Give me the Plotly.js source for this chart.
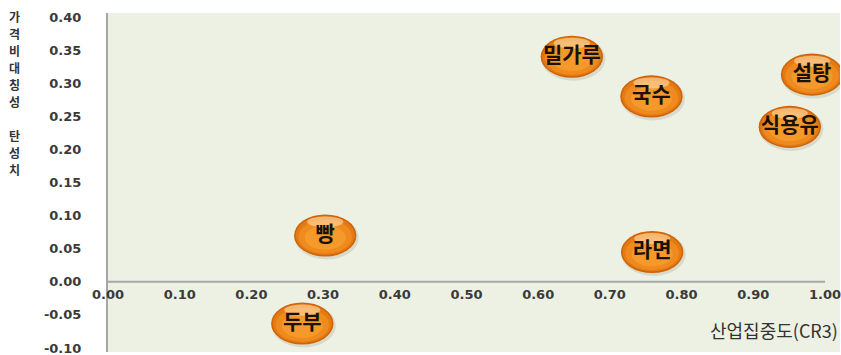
<!DOCTYPE html>
<html><head><meta charset="utf-8">
<script src="https://cdn.plot.ly/plotly-3.0.1.min.js"></script>
<style>html,body{margin:0;padding:0;background:#fff}</style>
</head><body>
<div id="chart" style="width:841px;height:355px"></div>
<script>
const items = ["밀가루","국수","설탕","식용유","빵","라면","두부"];
const cr3 = [0.647, 0.758, 0.982, 0.951, 0.303, 0.759, 0.271];
const elasticity = [0.340, 0.280, 0.313, 0.234, 0.070, 0.045, -0.063];
const xTicks = [0,0.1,0.2,0.3,0.4,0.5,0.6,0.7,0.8,0.9,1.0];
const xTickText = ["0.00","0.10","0.20","0.30","0.40","0.50","0.60","0.70","0.80","0.90","1.00"];
const yTicks = [-0.10,-0.05,0,0.05,0.10,0.15,0.20,0.25,0.30,0.35,0.40];
const yTickText = ["-0.10","-0.05","0.00","0.05","0.10","0.15","0.20","0.25","0.30","0.35","0.40"];
const yTitleChars = ["가","격","비","대","칭","성","","탄","성","치"];
const xTitle = "산업집중도(CR3)";

const tickFont = {family:"DejaVu Sans", size:13, color:"#3A3A3A", weight:"bold"};

const X0 = 0, X1 = 1.021, Y0 = -0.106, Y1 = 0.406;
const plotTop = 13, plotBottom = 352;

// bubble half-sizes in axis units (ellipse ~62x40 px)
const hw = 0.0435, hh = 0.0318;
const shapes = [{type:"line", xref:"x", yref:"y", x0:0, x1:1, y0:0, y1:0,
    line:{color:"#A6A6A6", width:2}, layer:"below"}];
function ell(cx, cy, sx, sy, dy, color, op) {
  return {type:"circle", xref:"x", yref:"y", layer:"below",
    x0:cx-hw*sx, x1:cx+hw*sx, y0:cy+dy*hh-hh*sy, y1:cy+dy*hh+hh*sy,
    fillcolor:color, opacity:op, line:{width:0}};
}
for (let i=0;i<items.length;i++){
  const cx=cr3[i], cy=elasticity[i];
  shapes.push(ell(cx+0.002, cy, 1.03, 1.04, -0.1, "#8d8d7a", 0.22));
  shapes.push(ell(cx, cy, 1, 1, 0, "#CF6309", 1));
  shapes.push(ell(cx, cy, 0.95, 0.93, 0.0, "#E47A13", 1));
  shapes.push(ell(cx, cy, 0.86, 0.8, -0.06, "#EF8A1E", 1));
  shapes.push(ell(cx, cy, 0.66, 0.58, -0.1, "#F59A2C", 0.9));
  shapes.push(ell(cx, cy, 0.58, 0.26, 0.64, "#FFE0B0", 0.6));
}

const trace = {
  type:"scatter", mode:"text",
  x: cr3, y: elasticity, text: items,
  textposition:"middle center",
  textfont:{family:"Noto Sans CJK KR", size:21, color:"#1a1208", weight:"bold"},
  cliponaxis:false, hoverinfo:"none"
};

const annotations = [];
const charY0 = 16, charStep = 17.1;
yTitleChars.forEach((c, i) => {
  if (!c) return;
  const py = charY0 + i*charStep;
  annotations.push({xref:"paper", yref:"paper", x:(14-108)/732, y:(plotBottom-py)/(plotBottom-plotTop),
    xanchor:"center", yanchor:"middle", text:c, showarrow:false, borderpad:0,
    font:{family:"Noto Sans CJK KR", size:12, color:"#333", weight:"bold"}});
});
annotations.push({xref:"paper", yref:"paper", x:(840-108)/732, y:(plotBottom-330)/(plotBottom-plotTop),
  xanchor:"right", yanchor:"middle", text:xTitle, showarrow:false,
  font:{family:"Noto Sans CJK KR", size:18, color:"#333"}});

const layout = {
  width:841, height:355,
  margin:{l:108, r:1, t:plotTop, b:355-plotBottom},
  paper_bgcolor:"#ffffff", plot_bgcolor:"#EDF1E3",
  showlegend:false,
  xaxis:{range:[X0,X1], tickvals:xTicks, ticktext:xTickText, tickfont:tickFont,
    anchor:"free", position:(0-Y0)/(Y1-Y0), showgrid:false, zeroline:false, showline:false,
    ticks:"", ticklabelstandoff:3, ticklabeloverflow:"allow"},
  yaxis:{range:[Y0,Y1], tickvals:yTicks, ticktext:yTickText, tickfont:tickFont,
    showgrid:false, zeroline:false, showline:true, linecolor:"#A6A6A6", linewidth:2,
    ticks:"", ticklabelstandoff:22, ticklabeloverflow:"allow"},
  shapes: shapes,
  annotations: annotations
};
Plotly.newPlot("chart",[trace],layout,{displayModeBar:false, staticPlot:true});
</script>
</body></html>
